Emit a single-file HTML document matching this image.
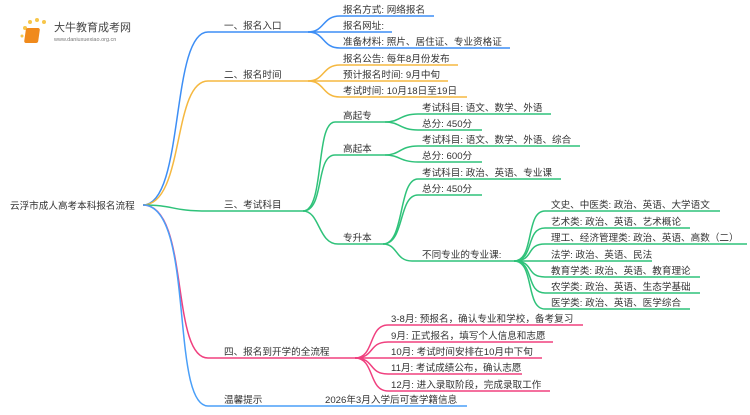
<!DOCTYPE html>
<html><head><meta charset="utf-8"><style>
body{margin:0;background:#fff}
svg text{font-family:"Liberation Sans","Noto Sans CJK SC",sans-serif;font-size:9.6px;fill:#333}
</style></head><body>
<svg width="750" height="410" viewBox="0 0 750 410" xmlns="http://www.w3.org/2000/svg">
<g fill="none" stroke-width="1.5">
<path d="M143,205 C185,205 170,32 208,32 L308,32" stroke="#3d8ef5"/>
<path d="M143,205 C185,205 172,81 208,81 L308,81" stroke="#f5b840"/>
<path d="M143,205 C175,205 170,211 208,211 L303,211" stroke="#2fc27a"/>
<path d="M143,205 C190,205 170,358 208,358 L355,358" stroke="#f0407f"/>
<path d="M143,205 C195,205 170,406 208,406 L467,406" stroke="#4a9ff8"/>
<g stroke="#3d8ef5">
<path d="M308,32 C325,32 322,16 340,16 L434,16"/>
<path d="M308,32 L392,32"/>
<path d="M308,32 C325,32 322,48 340,48 L510,48"/>
</g>
<g stroke="#f5b840">
<path d="M308,81 C325,81 322,65 340,65 L458,65"/>
<path d="M308,81 L448,81"/>
<path d="M308,81 C325,81 322,97 340,97 L467,97"/>
</g>
<g stroke="#2fc27a">
<path d="M303,211 C325,211 315,122 335,122 L385,122"/>
<path d="M303,211 C325,211 315,155 335,155 L385,155"/>
<path d="M303,211 C320,211 318,244 338,244 L383,244"/>
<path d="M385,122 C400,122 400,114 418,114 L551,114"/>
<path d="M385,122 C400,122 400,130 418,130 L482,130"/>
<path d="M385,155 C400,155 400,146 418,146 L580,146"/>
<path d="M385,155 C400,155 400,162 418,162 L482,162"/>
<path d="M383,244 C405,244 398,179 418,179 L561,179"/>
<path d="M383,244 C405,244 398,195 418,195 L482,195"/>
<path d="M383,244 C398,244 395,261 412,261 L514,261"/>
<path d="M514,261 C535,261 525,211 545,211 L720,211"/>
<path d="M514,261 C535,261 525,228 545,228 L690,228"/>
<path d="M514,261 C535,261 525,244 545,244 L747,244"/>
<path d="M514,261 L652,261"/>
<path d="M514,261 C535,261 525,277 545,277 L700,277"/>
<path d="M514,261 C535,261 525,293 545,293 L700,293"/>
<path d="M514,261 C535,261 525,309 545,309 L690,309"/>
</g>
<g stroke="#f0407f">
<path d="M355,358 C375,358 368,325 388,325 L583,325"/>
<path d="M355,358 C375,358 368,342 388,342 L553,342"/>
<path d="M355,358 L542,358"/>
<path d="M355,358 C375,358 368,374 388,374 L522,374"/>
<path d="M355,358 C375,358 368,391 388,391 L550,391"/>
</g>
</g>
<g>
<circle cx="25" cy="28" r="2" fill="#f7c64a"/><circle cx="30" cy="22" r="2" fill="#f7c64a"/><circle cx="37" cy="20" r="2" fill="#f7c64a"/><circle cx="44" cy="22" r="2" fill="#f7c64a"/><circle cx="22" cy="36" r="1.5" fill="#f7c64a"/>
<rect x="30" y="28" width="14" height="15" rx="2" fill="#f08a1c" transform="skewX(-8)"/>
<text x="54" y="31" style="font-size:11px;fill:#444">大牛教育成考网</text>
<text x="54" y="41" style="font-size:5.5px;fill:#777">www.daniuxuexiao.org.cn</text>
</g>
<text x="10" y="209">云浮市成人高考本科报名流程</text>
<text x="224" y="29">一、报名入口</text>
<text x="224" y="78">二、报名时间</text>
<text x="224" y="208">三、考试科目</text>
<text x="224" y="355">四、报名到开学的全流程</text>
<text x="224" y="403">温馨提示</text>
<text x="325" y="403">2026年3月入学后可查学籍信息</text>
<text x="343" y="13">报名方式: 网络报名</text>
<text x="343" y="29">报名网址:</text>
<text x="343" y="45">准备材料: 照片、居住证、专业资格证</text>
<text x="343" y="62">报名公告: 每年8月份发布</text>
<text x="343" y="78">预计报名时间: 9月中旬</text>
<text x="343" y="94">考试时间: 10月18日至19日</text>
<text x="343" y="119">高起专</text>
<text x="343" y="152">高起本</text>
<text x="343" y="241">专升本</text>
<text x="422" y="111">考试科目: 语文、数学、外语</text>
<text x="422" y="127">总分: 450分</text>
<text x="422" y="143">考试科目: 语文、数学、外语、综合</text>
<text x="422" y="159">总分: 600分</text>
<text x="422" y="176">考试科目: 政治、英语、专业课</text>
<text x="422" y="192">总分: 450分</text>
<text x="422" y="258">不同专业的专业课:</text>
<text x="551" y="208">文史、中医类: 政治、英语、大学语文</text>
<text x="551" y="225">艺术类: 政治、英语、艺术概论</text>
<text x="551" y="241">理工、经济管理类: 政治、英语、高数（二）</text>
<text x="551" y="258">法学: 政治、英语、民法</text>
<text x="551" y="274">教育学类: 政治、英语、教育理论</text>
<text x="551" y="290">农学类: 政治、英语、生态学基础</text>
<text x="551" y="306">医学类: 政治、英语、医学综合</text>
<text x="391" y="322">3-8月: 预报名，确认专业和学校，备考复习</text>
<text x="391" y="339">9月: 正式报名，填写个人信息和志愿</text>
<text x="391" y="355">10月: 考试时间安排在10月中下旬</text>
<text x="391" y="371">11月: 考试成绩公布，确认志愿</text>
<text x="391" y="388">12月: 进入录取阶段，完成录取工作</text>
</svg>
</body></html>
